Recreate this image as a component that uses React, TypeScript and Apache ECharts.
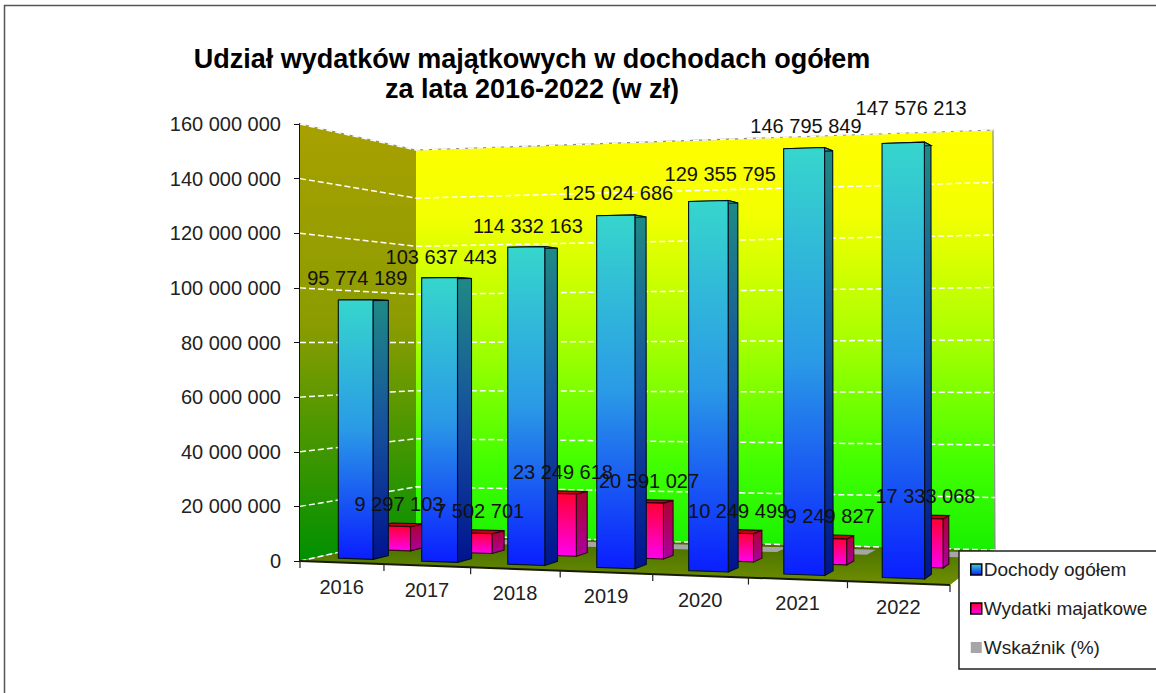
import React, { useEffect, useRef } from "react";
import * as echarts from "echarts";

const categories = ["2016", "2017", "2018", "2019", "2020", "2021", "2022"];
const dochody = [95774189, 103637443, 114332163, 125024686, 129355795, 146795849, 147576213];
const wydatki = [9297103, 7502701, 23249618, 20591027, 10249499, 9249827, 17333068];
const wskaznik = [9.7, 7.2, 20.3, 16.5, 7.9, 6.3, 11.7];
const yTicks = [0, 20000000, 40000000, 60000000, 80000000, 100000000, 120000000, 140000000, 160000000];
const titleLines = ["Udział wydatków majątkowych w dochodach ogółem", "za lata 2016-2022 (w zł)"];
const seriesNames = ["Dochody ogółem", "Wydatki majatkowe", "Wskaźnik (%)"];

const G = { left: 300, top: 124, width: 650, height: 437 };
type Pt = [number, number];

const bilinear = (fl: Pt, fr: Pt, br: Pt, bl: Pt) => (u: number, v: number): Pt => [
  (fl[0] * (1 - u) + fr[0] * u) * (1 - v) + (bl[0] * (1 - u) + br[0] * u) * v,
  (fl[1] * (1 - u) + fr[1] * u) * (1 - v) + (bl[1] * (1 - u) + br[1] * u) * v,
];
const floorPlane = bilinear([300, 561], [950, 585], [995, 550], [416, 535]);
const topPlane = bilinear([300, 124], [950, 100], [993, 130], [416, 150]);
const PERSPECTIVE = -0.11;
const warp = (t: number) => (t * (1 + PERSPECTIVE)) / (1 + PERSPECTIVE * t);

// Turn an axis position (category index + offset inside the band, value) into the 3-D view.
function proj(api: any, cat: number, off: number, depth: number, value: number): Pt {
  const c = api.coord([cat, value]);
  const t = warp((c[0] - G.left) / G.width + (off - 0.5) / categories.length);
  const f = (G.top + G.height - c[1]) / G.height;
  const a = floorPlane(t, depth), b = topPlane(t, depth);
  return [a[0] + (b[0] - a[0]) * f, a[1] + (b[1] - a[1]) * f];
}
const vgrad = (stops: [number, string][]) =>
  new echarts.graphic.LinearGradient(0, 0, 0, 1, stops.map(([offset, color]) => ({ offset, color })));

const sceneItem = (_p: any, api: any) => {
  const c = categories.length - 1;
  const FL = (v: number) => proj(api, 0, 0, 0, v);
  const BL = (v: number) => proj(api, 0, 0, 1, v);
  const BR = (v: number) => proj(api, c, 1, 1, v);
  const FR = (v: number) => proj(api, c, 1, 0, v);
  const max = yTicks[yTicks.length - 1];
  const children: any[] = [
    { type: "polygon", shape: { points: [FL(max), BL(max), BL(0), FL(0)] },
      style: { fill: vgrad([[0, "#a8a000"], [0.45, "#8c9c00"], [0.75, "#3f9600"], [1, "#009000"]]) } },
    { type: "polygon", shape: { points: [BL(max), BR(max), BR(0), BL(0)] },
      style: { fill: vgrad([[0, "#ffff00"], [0.2, "#f4ff00"], [0.5, "#a8ff00"], [0.8, "#40ff00"], [1, "#18f000"]]) } },
    { type: "polygon", shape: { points: [BL(0), BR(0), FR(0), FL(0)] },
      style: { fill: vgrad([[0, "#3f6a00"], [1, "#708f00"]]) } },
    { type: "polyline", shape: { points: [FL(max), BL(max), BR(max), BR(0)] },
      style: { stroke: "#8c8c8c", lineWidth: 1.2, fill: "none" } },
  ];
  yTicks.forEach((v) => {
    children.push({ type: "polyline", shape: { points: [FL(v), BL(v), BR(v)] },
      style: { stroke: "#ffffff", lineWidth: 1.5, lineDash: [6, 3], fill: "none" } });
  });
  children.push({ type: "line", shape: { x1: FL(0)[0], y1: FL(0)[1], x2: FR(0)[0], y2: FR(0)[1] },
    style: { stroke: "#1a1a00", lineWidth: 2 } });
  for (let i = 0; i <= categories.length; i++) {
    const p = i < categories.length ? proj(api, i, 0, 0, 0) : FR(0);
    children.push({ type: "line", shape: { x1: p[0], y1: p[1], x2: p[0], y2: p[1] + 7 },
      style: { stroke: "#222", lineWidth: 1.2 } });
  }
  categories.forEach((name, i) => {
    const p = proj(api, i, 0.5, 0, 0);
    children.push({ type: "text", style: { text: name, x: p[0], y: p[1] + 24, align: "center", verticalAlign: "middle",
      fill: "#222", font: '20px "Liberation Sans"' } });
  });
  return { type: "group", children };
};

function barItem(t0: number, t1: number, d0: number, d1: number, front: any, side: any, topFill: string, stroke: string) {
  return (_p: any, api: any) => {
    const i = api.value(0), v = api.value(1);
    const P = (o: number, d: number, h: number) => proj(api, i, o, d, h);
    const style = (fill: any) => ({ fill, stroke, lineWidth: 1.1 });
    return { type: "group", children: [
      { type: "polygon", shape: { points: [P(t1, d0, 0), P(t1, d1, 0), P(t1, d1, v), P(t1, d0, v)] }, style: style(side) },
      { type: "polygon", shape: { points: [P(t0, d0, v), P(t1, d0, v), P(t1, d1, v), P(t0, d1, v)] }, style: style(topFill) },
      { type: "polygon", shape: { points: [P(t0, d0, 0), P(t1, d0, 0), P(t1, d0, v), P(t0, d0, v)] }, style: style(front) },
    ] };
  };
}

const flatItem = (t0: number, t1: number, d0: number, d1: number) => (_p: any, api: any) => {
  const i = api.value(0), v = api.value(1);
  const P = (o: number, d: number) => proj(api, i, o, d, v);
  return { type: "polygon", shape: { points: [P(t0, d0), P(t1, d0), P(t1, d1), P(t0, d1)] }, style: { fill: "#a6a6a6" } };
};

const fmt = (v: number) => String(v).replace(/\B(?=(\d{3})+$)/g, " ");

const labelItem = (off: number, depth: number, lift: number[], shift: number[]) => (_p: any, api: any) => {
  const i = api.value(0), v = api.value(1);
  const p = proj(api, i, off, depth, v);
  return { type: "text", style: { text: fmt(v), x: p[0] + shift[i], y: p[1] - lift[i], align: "center", verticalAlign: "middle",
    fill: "#111", font: '20px "Liberation Sans"' } };
};

const toRows = (arr: number[]) => arr.map((v, i) => [i, v]);

export default function App() {
  const ref = useRef<HTMLDivElement>(null);
  useEffect(() => {
    document.body.style.margin = "0";
    const chart = echarts.init(ref.current!, undefined, { renderer: "svg" });
    const blueFront = vgrad([[0, "#36d6cc"], [0.5, "#2a9ae6"], [1, "#0a1eff"]]);
    const blueSide = vgrad([[0, "#1f8a86"], [0.5, "#164f9c"], [1, "#001490"]]);
    const pinkFront = vgrad([[0, "#ff0030"], [1, "#ff00f0"]]);
    const pinkSide = vgrad([[0, "#b00030"], [1, "#aa00a0"]]);
    chart.setOption({
      animation: false,
      backgroundColor: "#ffffff",
      title: { text: titleLines.join("\n"), left: 527, top: 39, textAlign: "center",
        textStyle: { fontFamily: "Liberation Sans", fontSize: 27, fontWeight: "bold", color: "#000", lineHeight: 30 } },
      grid: { left: G.left, top: G.top, width: G.width, height: G.height },
      xAxis: { type: "category", data: categories, show: false },
      yAxis: { type: "value", min: 0, max: 160000000, interval: 20000000,
        axisLine: { show: true, lineStyle: { color: "#111", width: 2 } },
        axisTick: { show: true, length: 6, lineStyle: { color: "#111" } },
        splitLine: { show: false },
        axisLabel: { margin: 19, color: "#222", fontSize: 20, fontFamily: "Liberation Sans", formatter: (v: number) => fmt(v) } },
      legend: { left: 959, top: 551, orient: "vertical", icon: "rect", itemWidth: 11, itemHeight: 11, itemGap: 20,
        padding: [9, 40, 12, 11], backgroundColor: "#fff", borderColor: "#222", borderWidth: 1.5,
        textStyle: { fontFamily: "Liberation Sans", fontSize: 19, color: "#222", padding: [0, 0, 0, -3] },
        data: [
          { name: seriesNames[0], itemStyle: { color: vgrad([[0, "#36d6cc"], [1, "#0a1eff"]]), borderColor: "#000", borderWidth: 1.5 } },
          { name: seriesNames[1], itemStyle: { color: vgrad([[0, "#ff0030"], [1, "#ff00f0"]]), borderColor: "#000", borderWidth: 1.5 } },
          { name: seriesNames[2], itemStyle: { color: "#a6a6a6", borderWidth: 0 } },
        ] },
      graphic: [{ type: "rect", shape: { x: 4.5, y: 5.5, width: 1300, height: 900 }, style: { fill: "none", stroke: "#555", lineWidth: 1.5 }, silent: true }],
      series: [
        { type: "custom", name: "scene", renderItem: sceneItem, data: [[0, 0]], z: 1 },
        { type: "custom", name: seriesNames[2], renderItem: flatItem(0.3, 0.74, 0.77, 0.92), data: toRows(wskaznik), itemStyle: { color: "#a6a6a6" }, z: 2 },
        { type: "custom", name: seriesNames[1], renderItem: barItem(0.32, 0.72, 0.46, 0.58, pinkFront, pinkSide, "#c40010", "#300010"), data: toRows(wydatki), itemStyle: { color: "#ff0080" }, z: 3 },
        { type: "custom", name: seriesNames[0], renderItem: barItem(0.27, 0.69, 0.14, 0.28, blueFront, blueSide, "#1fa8a8", "#001020"), data: toRows(dochody), itemStyle: { color: "#2a9ae6" }, z: 4 },
        { type: "custom", name: "label1", renderItem: labelItem(0.52, 0.5, [21, 21, 21, 21, 21, 21, 21], [0, 0, 0, 0, 0, 0, 0]), data: toRows(wydatki), z: 5 },
        { type: "custom", name: "label0", renderItem: labelItem(0.5, 0.14, [22, 21, 21, 22, 27, 22, 35], [0, 0, 0, 0, 10, 0, 6]), data: toRows(dochody), z: 5 },
      ],
    });
    return () => chart.dispose();
  }, []);
  return <div ref={ref} style={{ width: 1156, height: 693 }} />;
}
